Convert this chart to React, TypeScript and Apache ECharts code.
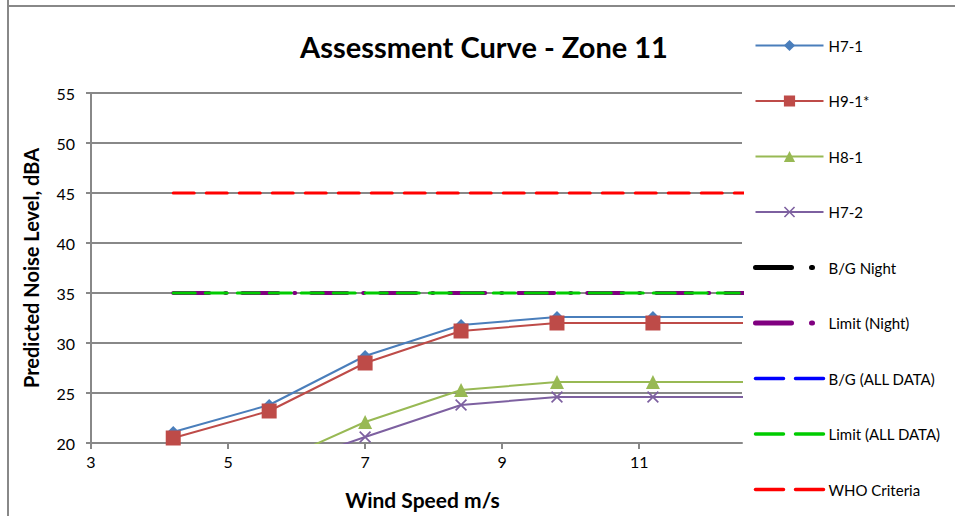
import React, { useEffect, useRef } from "react";
import * as echarts from "echarts";

const windSpeed = [4.2, 5.6, 7.0, 8.4, 9.8, 11.2, 12.6];
const h7_1 = [21.1, 23.8, 28.7, 31.8, 32.6, 32.6, 32.6];
const h9_1 = [20.5, 23.2, 28.0, 31.2, 32.0, 32.0, 32.0];
const h8_1 = [15.0, 17.8, 22.1, 25.3, 26.1, 26.1, 26.1];
const h7_2 = [14.5, 17.3, 20.6, 23.8, 24.6, 24.6, 24.6];
const bgNight: number[] = [];
const limitNight = [35, 35, 35, 35, 35, 35, 35];
const bgAll: number[] = [];
const limitAll = [35, 35, 35, 35, 35, 35, 35];
const whoCriteria = [45, 45, 45, 45, 45, 45, 45];

const markerNames = ["H7-1", "H9-1*", "H8-1", "H7-2"];
const dotDashNames = ["B/G Night", "Limit (Night)"];
const dashNames = ["B/G (ALL DATA)", "Limit (ALL DATA)", "WHO Criteria"];

const FONT = 'Lato, "Open Sans", "Noto Sans", sans-serif';
const X_SYMBOL =
  "path://M0,2 L2,0 L10,8 L18,0 L20,2 L12,10 L20,18 L18,20 L10,12 L2,20 L0,18 L8,10 Z";

function pairs(ys: number[]) {
  return ys.map((y, i) => [windSpeed[i], y]);
}

export default function App() {
  const ref = useRef<HTMLDivElement>(null);
  useEffect(() => {
    if (!ref.current) return;
    const chart = echarts.init(ref.current, undefined, { renderer: "svg" });
    const markerLine = (
      name: string,
      ys: number[],
      color: string,
      symbol: string,
      size: number
    ) => ({
      name,
      type: "line",
      data: pairs(ys),
      symbol,
      symbolSize: size,
      showSymbol: true,
      lineStyle: { color, width: 2 },
      itemStyle: { color },
      clip: true,
    });
    const flatLine = (
      name: string,
      ys: number[],
      color: string,
      dash: number[],
      width: number
    ) => ({
      name,
      type: "line",
      data: pairs(ys),
      symbol: "none",
      lineStyle: { color, width, type: dash, cap: "round" },
      itemStyle: { color },
      clip: true,
    });
    const legendData = [
      ...markerNames,
      ...dotDashNames.map((n) => ({
        name: n,
        itemStyle: { opacity: 0 },
        lineStyle: { width: 5, type: [36, 20, 1, 40], cap: "round" },
      })),
      ...dashNames.map((n) => ({
        name: n,
        itemStyle: { opacity: 0 },
        lineStyle: { width: 3.5, type: [28, 12], cap: "round" },
      })),
    ];
    chart.setOption({
      animation: false,
      backgroundColor: "#fff",
      textStyle: { fontFamily: FONT },
      title: {
        text: "Assessment Curve - Zone 11",
        left: 479,
        textAlign: "center",
        top: 27,
        textStyle: { fontFamily: FONT, fontSize: 29, fontWeight: "bold", color: "#000" },
      },
      grid: { left: 91, top: 93, right: 213, bottom: 73 },
      legend: {
        orient: "vertical",
        left: 748,
        top: 33,
        itemWidth: 68,
        itemHeight: 14,
        itemGap: 40.5,
        data: legendData,
        textStyle: { fontFamily: FONT, fontSize: 15, color: "#000" },
      },
      xAxis: {
        type: "value",
        min: 3,
        max: 12.5,
        interval: 2,
        name: "Wind Speed m/s",
        nameLocation: "middle",
        nameGap: 46,
        nameTextStyle: {
          fontFamily: FONT,
          fontSize: 21,
          fontWeight: "bold",
          color: "#000",
          padding: [0, 0, 0, 12],
        },
        axisLine: { show: true, lineStyle: { color: "#888", width: 2 } },
        axisTick: { show: true, inside: false, length: 6, lineStyle: { color: "#888", width: 2 } },
        axisLabel: { fontSize: 16, color: "#000", margin: 10, showMaxLabel: false, fontFamily: FONT },
        splitLine: { show: false },
      },
      yAxis: {
        type: "value",
        min: 20,
        max: 55,
        interval: 5,
        name: "Predicted Noise Level, dBA",
        nameLocation: "middle",
        nameGap: 50,
        nameTextStyle: { fontFamily: FONT, fontSize: 20, fontWeight: "bold", color: "#000" },
        axisLine: { show: true, lineStyle: { color: "#888", width: 2 } },
        axisTick: { show: true, inside: false, length: 5, lineStyle: { color: "#888", width: 2 } },
        axisLabel: { fontSize: 16, color: "#000", margin: 16, fontFamily: FONT },
        splitLine: { show: true, lineStyle: { color: "#888", width: 2 } },
      },
      series: [
        markerLine("H7-1", h7_1, "#4A7EBB", "diamond", 12),
        markerLine("H9-1*", h9_1, "#BE4B48", "rect", 15),
        markerLine("H8-1", h8_1, "#98B954", "triangle", 14),
        markerLine("H7-2", h7_2, "#7D60A0", X_SYMBOL, 12),
        flatLine("B/G Night", bgNight, "#000000", [36, 16, 1, 16], 4),
        flatLine("Limit (Night)", limitNight, "#800080", [36, 16, 1, 16], 4),
        flatLine("B/G (ALL DATA)", bgAll, "#0000FF", [26, 14], 3),
        flatLine("Limit (ALL DATA)", limitAll, "#00CC00", [22, 10], 3),
        flatLine("WHO Criteria", whoCriteria, "#FF0000", [21, 12], 3),
      ],
      graphic: [
        {
          type: "line",
          shape: { x1: 8, y1: 6, x2: 955, y2: 6 },
          style: { stroke: "#888", lineWidth: 2 },
        },
        {
          type: "line",
          shape: { x1: 8, y1: 0, x2: 8, y2: 516 },
          style: { stroke: "#888", lineWidth: 2 },
        },
      ],
    });
    return () => chart.dispose();
  }, []);
  return (
    <div
      ref={ref}
      style={{ position: "fixed", left: 0, top: 0, width: 955, height: 516 }}
    />
  );
}
